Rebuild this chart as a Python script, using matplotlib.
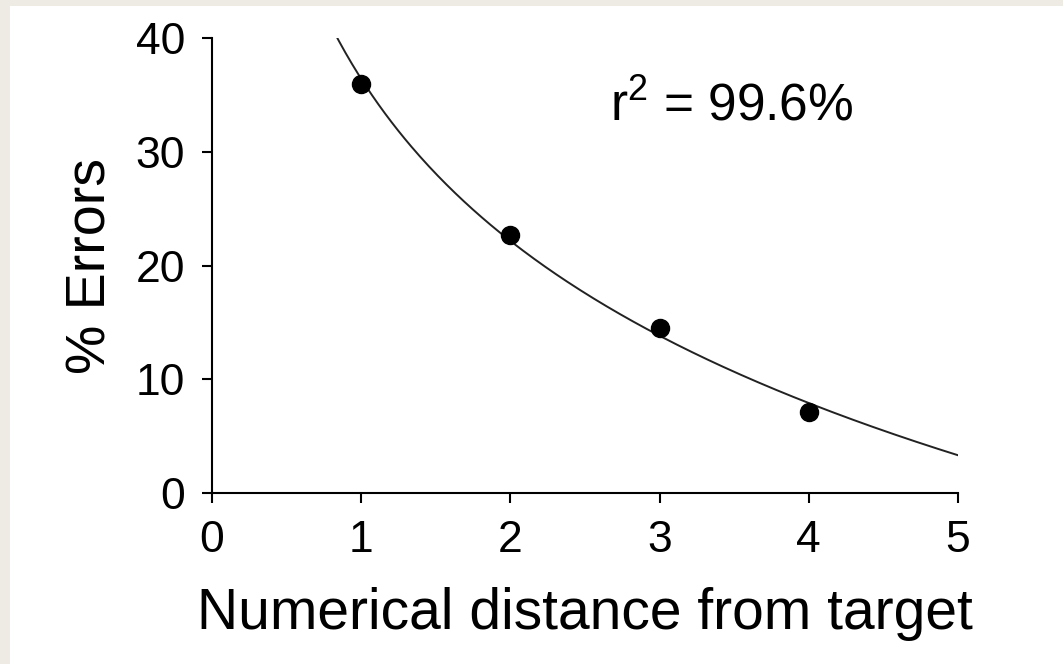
import numpy as np
import matplotlib
matplotlib.use("Agg")
import matplotlib.pyplot as plt
from matplotlib.patches import Rectangle

plt.rcParams['font.family'] = ['Liberation Sans', 'DejaVu Sans']
plt.rcParams['mathtext.fontset'] = 'custom'
plt.rcParams['mathtext.rm'] = 'Liberation Sans'

# data
distance = [1, 2, 3, 4]
errors = [36.0, 22.7, 14.5, 7.1]
x_ticks = [0, 1, 2, 3, 4, 5]
y_ticks = [0, 10, 20, 30, 40]
r2_label = r'r$^{\mathrm{2}}$ = 99.6%'

W, H = 1063, 664
fig = plt.figure(figsize=(W / 100, H / 100), dpi=100, facecolor='#eeebe4')
fig.patches.append(Rectangle((10 / W, 0), 1, (H - 6) / H, transform=fig.transFigure,
                             facecolor='white', edgecolor='none', zorder=-10))

ax = fig.add_axes([212 / W, (H - 493) / H, (958 - 212) / W, (493 - 38) / H])
ax.set_facecolor('white')

# logarithmic trend line fitted to the points
b, a = np.polyfit(np.log(distance), errors, 1)
xs = np.linspace(0.6, 5, 300)
ax.plot(xs, a + b * np.log(xs), color='#222222', lw=1.4, zorder=2)
ax.plot(distance, errors, 'o', color='black', ms=13, zorder=3)

ax.set_xlim(0, 5)
ax.set_ylim(0, 40)
ax.set_xticks(x_ticks)
ax.set_yticks(y_ticks)
for s in ['top', 'right']:
    ax.spines[s].set_visible(False)
for s in ['left', 'bottom']:
    ax.spines[s].set_linewidth(1.5)
ax.tick_params(length=7.5, width=1.5, labelsize=32)
ax.tick_params(axis='x', pad=12)
ax.tick_params(axis='y', pad=12)

ax.set_xlabel('Numerical distance from target', fontsize=41, labelpad=19)
ax.set_ylabel('% Errors', fontsize=40, labelpad=13)

ax.text(2.67, 32.8, r2_label, fontsize=37, ha='left', va='baseline')

fig.savefig('out.png', dpi=100, facecolor=fig.get_facecolor())
